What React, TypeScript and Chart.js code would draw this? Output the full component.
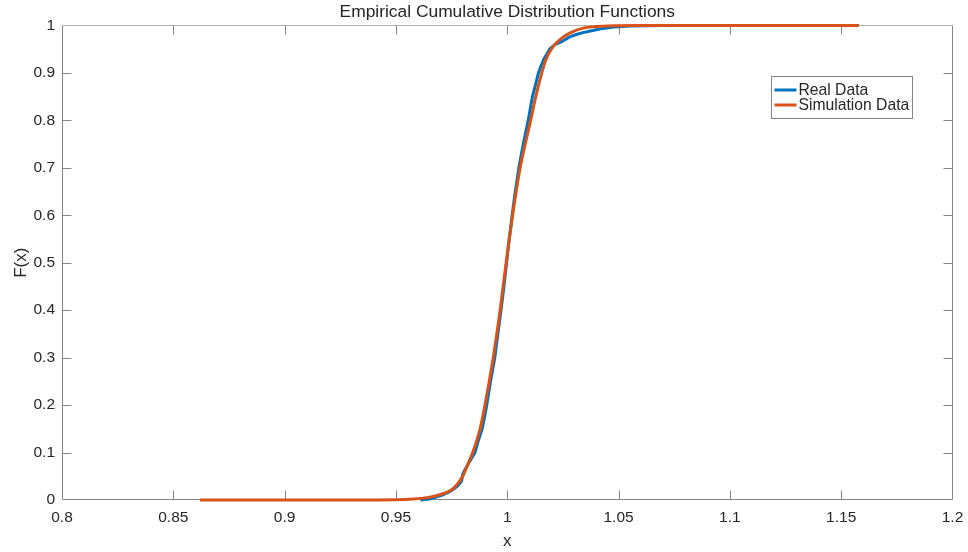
import React, { useEffect, useRef } from 'react';
import { Chart, registerables } from 'chart.js';

Chart.register(...registerables);

// ---------- data ----------
const chartTitle = 'Empirical Cumulative Distribution Functions';
const xAxisLabel = 'x';
const yAxisLabel = 'F(x)';
const seriesNames = ['Real Data', 'Simulation Data'];
const seriesColors = ['#0072BD', '#D95319'];

const xTicks = [0.8, 0.85, 0.9, 0.95, 1.0, 1.05, 1.1, 1.15, 1.2];
const yTicks = [0, 0.1, 0.2, 0.3, 0.4, 0.5, 0.6, 0.7, 0.8, 0.9, 1.0];

const realX = [
  0.961, 0.965, 0.968, 0.9705, 0.973, 0.975, 0.9778, 0.9795, 0.98, 0.9815,
  0.983, 0.9855, 0.987, 0.9887, 0.9898, 0.9908, 0.9925, 0.9944, 0.9958, 0.9972,
  0.9985, 0.9997, 1.0009, 1.0022, 1.0036, 1.0052, 1.0072, 1.0094, 1.0113, 1.0127,
  1.014, 1.0152, 1.0165, 1.0178, 1.019, 1.0215, 1.024, 1.026, 1.028, 1.031,
  1.034, 1.039, 1.042, 1.048, 1.055, 1.07,
];
const realF = [
  0.0, 0.002, 0.006, 0.01, 0.015, 0.02, 0.03, 0.04, 0.055, 0.068,
  0.08, 0.1, 0.125, 0.15, 0.175, 0.2, 0.25, 0.3, 0.35, 0.4,
  0.45, 0.5, 0.55, 0.6, 0.65, 0.7, 0.75, 0.8, 0.85, 0.875,
  0.9, 0.915, 0.93, 0.94, 0.95, 0.96, 0.965, 0.97, 0.976, 0.981,
  0.985, 0.99, 0.993, 0.997, 0.999, 1.0,
];

const simX = [
  0.862, 0.93, 0.95, 0.958, 0.964, 0.969, 0.9745, 0.977, 0.98, 0.9823,
  0.9845, 0.9878, 0.99, 0.9937, 0.9968, 0.9995, 1.0024, 1.0058, 1.0105, 1.0128,
  1.0155, 1.0175, 1.0205, 1.025, 1.0285, 1.0345, 1.045, 1.06, 1.158,
];
const simF = [
  0.0, 0.0, 0.0005, 0.002, 0.005, 0.01, 0.02, 0.03, 0.05, 0.075,
  0.1, 0.15, 0.2, 0.3, 0.4, 0.5, 0.6, 0.7, 0.8, 0.85,
  0.9, 0.93, 0.955, 0.975, 0.985, 0.995, 0.999, 1.0, 1.0,
];

// ---------- styles ----------
const FONT = "'Liberation Sans', Arial, Helvetica, sans-serif";
const TEXT = '#262626';
const AXIS = '#858585';
const AXIS_TOP = '#b3b3b3';
const TICK_LEN = 9;

const fmt = (v: number) => String(Number(v.toFixed(2)));

// centre the title over the plotting area (MATLAB style)
const titleCenterPlugin = {
  id: 'titleOverPlot',
  afterLayout(chart: any) {
    const tb = chart.titleBlock;
    if (!tb) return;
    tb.left = chart.chartArea.left;
    tb.right = chart.chartArea.right;
    tb.width = tb.right - tb.left;
  },
};

const framePlugin = {
  id: 'matlabFrame',
  beforeDatasetsDraw(chart: any) {
    const { ctx, chartArea, scales } = chart;
    const l = Math.round(chartArea.left) + 0.5;
    const r = Math.floor(chartArea.right) + 0.5;
    const t = Math.floor(chartArea.top) + 0.5;
    const b = Math.ceil(chartArea.bottom) - 0.5;
    ctx.save();
    ctx.lineWidth = 1;
    ctx.strokeStyle = AXIS;
    ctx.beginPath();
    ctx.moveTo(l, t);
    ctx.lineTo(l, b);
    ctx.lineTo(r, b);
    ctx.lineTo(r, t);
    ctx.stroke();
    ctx.strokeStyle = AXIS_TOP;
    ctx.beginPath();
    ctx.moveTo(l, t);
    ctx.lineTo(r, t);
    ctx.stroke();
    ctx.strokeStyle = AXIS;
    ctx.beginPath();
    scales.x.ticks.forEach((tk: any) => {
      const px = Math.round(scales.x.getPixelForValue(tk.value)) + 0.5;
      if (px <= l + 1 || px >= r - 1) return;
      ctx.moveTo(px, b);
      ctx.lineTo(px, b - TICK_LEN);
      ctx.moveTo(px, t);
      ctx.lineTo(px, t + TICK_LEN);
    });
    scales.y.ticks.forEach((tk: any) => {
      const py = Math.round(scales.y.getPixelForValue(tk.value)) + 0.5;
      if (py <= t + 1 || py >= b - 1) return;
      ctx.moveTo(l, py);
      ctx.lineTo(l + TICK_LEN, py);
      ctx.moveTo(r, py);
      ctx.lineTo(r - TICK_LEN, py);
    });
    ctx.stroke();
    ctx.restore();
  },
};

const legendPlugin = {
  id: 'insideLegend',
  afterDraw(chart: any) {
    const { ctx, chartArea } = chart;
    const boxR = Math.floor(chartArea.right) - 40 + 0.5;
    const boxL = boxR - 141;
    const boxT = Math.floor(chartArea.top) + 51 + 0.5;
    const boxB = boxT + 42;
    ctx.save();
    ctx.fillStyle = '#ffffff';
    ctx.fillRect(boxL, boxT, boxR - boxL, boxB - boxT);
    ctx.strokeStyle = AXIS;
    ctx.lineWidth = 1;
    ctx.strokeRect(boxL, boxT, boxR - boxL, boxB - boxT);
    ctx.font = `15.7px ${FONT}`;
    ctx.textBaseline = 'middle';
    ctx.textAlign = 'left';
    chart.data.datasets.forEach((ds: any, i: number) => {
      const cy = boxT + 13.5 + i * 15;
      ctx.strokeStyle = ds.borderColor;
      ctx.lineWidth = 3;
      ctx.beginPath();
      ctx.moveTo(boxL + 3, cy);
      ctx.lineTo(boxL + 25, cy);
      ctx.stroke();
      ctx.fillStyle = TEXT;
      ctx.fillText(ds.label, boxL + 27, cy + 0.5);
    });
    ctx.restore();
  },
};

export default function App() {
  const ref = useRef<HTMLCanvasElement | null>(null);

  useEffect(() => {
    document.body.style.margin = '0';
    if (!ref.current) return;
    const tickFont = { family: FONT, size: 15.5 };
    const chart = new Chart(ref.current, {
      type: 'line',
      data: {
        datasets: [
          {
            label: seriesNames[0],
            data: realX.map((x, i) => ({ x, y: realF[i] })),
            borderColor: seriesColors[0],
            backgroundColor: seriesColors[0],
            borderWidth: 3,
            pointRadius: 0,
            tension: 0,
            borderJoinStyle: 'round',
            fill: false,
            order: 2,
            clip: false,
          },
          {
            label: seriesNames[1],
            data: simX.map((x, i) => ({ x, y: simF[i] })),
            borderColor: seriesColors[1],
            backgroundColor: seriesColors[1],
            borderWidth: 3,
            pointRadius: 0,
            cubicInterpolationMode: 'monotone',
            fill: false,
            order: 1,
            clip: false,
          },
        ],
      },
      options: {
        responsive: false,
        animation: false,
        devicePixelRatio: 1,
        events: [],
        layout: { padding: { left: 0, right: 15.5, top: 0, bottom: 0 } },
        plugins: {
          legend: { display: false },
          tooltip: { enabled: false },
          title: {
            display: true,
            text: chartTitle,
            color: TEXT,
            font: { family: FONT, size: 17.4, weight: 'normal', lineHeight: 1.2 },
            padding: { top: 1.5, bottom: 3.12 },
          },
        },
        scales: {
          x: {
            type: 'linear',
            min: xTicks[0],
            max: xTicks[xTicks.length - 1],
            afterBuildTicks: (scale: any) => {
              scale.ticks = xTicks.map((v) => ({ value: v }));
            },
            afterFit: (scale: any) => {
              scale.height = 52;
              scale.paddingLeft = 0;
              scale.paddingRight = 0;
            },
            grid: { display: false, drawTicks: false },
            border: { display: false },
            ticks: {
              color: TEXT,
              font: tickFont,
              padding: 8,
              maxRotation: 0,
              autoSkip: false,
              callback: (v: any) => fmt(Number(v)),
            },
            title: {
              display: true,
              text: xAxisLabel,
              color: TEXT,
              font: { family: FONT, size: 17 },
              padding: { top: 0, bottom: 0 },
            },
          },
          y: {
            type: 'linear',
            min: yTicks[0],
            max: yTicks[yTicks.length - 1],
            afterBuildTicks: (scale: any) => {
              scale.ticks = yTicks.map((v) => ({ value: v }));
            },
            afterFit: (scale: any) => {
              scale.width = 62;
              scale.paddingTop = 0;
              scale.paddingBottom = 0;
            },
            grid: { display: false, drawTicks: false },
            border: { display: false },
            ticks: {
              color: TEXT,
              font: tickFont,
              padding: 7,
              autoSkip: false,
              callback: (v: any) => fmt(Number(v)),
            },
            title: {
              display: true,
              text: yAxisLabel,
              color: TEXT,
              font: { family: FONT, size: 17 },
              padding: { top: 11, bottom: 0 },
            },
          },
        },
      },
      plugins: [titleCenterPlugin, framePlugin, legendPlugin],
    } as any);
    return () => chart.destroy();
  }, []);

  return (
    <div style={{ width: 968, height: 552, position: 'relative', background: '#ffffff' }}>
      <canvas ref={ref} width={968} height={552} style={{ display: 'block' }} />
    </div>
  );
}
